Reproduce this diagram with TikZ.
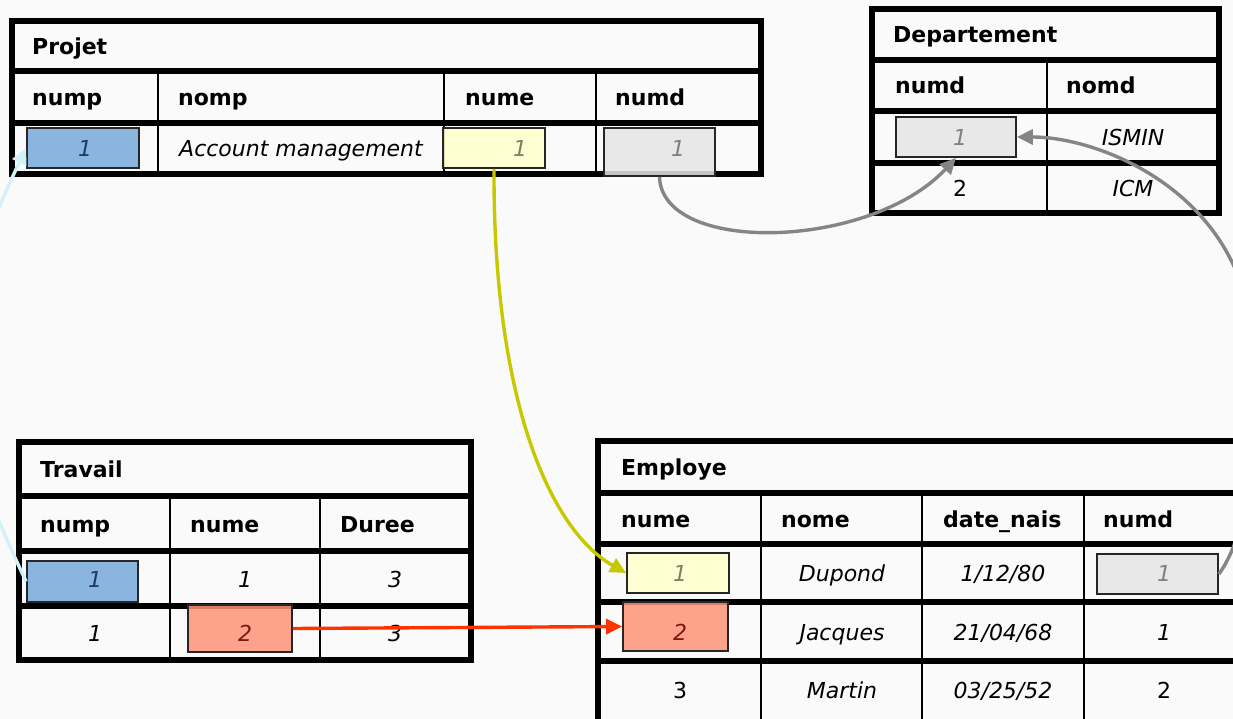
\documentclass[tikz,border=0pt]{standalone}
\usepackage{fontspec}
\setmainfont{DejaVu Sans}
\usetikzlibrary{arrows.meta}
\definecolor{bgc}{HTML}{FAFAFA}
\definecolor{blueF}{HTML}{76A9DB}
\definecolor{blueT}{HTML}{1F3A68}
\definecolor{yelF}{HTML}{FFFFCC}
\definecolor{yelT}{HTML}{7F7F60}
\definecolor{greyF}{HTML}{E6E6E6}
\definecolor{greyT}{HTML}{808080}
\definecolor{redF}{HTML}{FF9478}
\definecolor{redT}{HTML}{7F1A0A}
\definecolor{redA}{HTML}{FF3300}
\definecolor{yelA}{HTML}{C8C800}
\definecolor{greyA}{HTML}{858585}
\definecolor{cyanA}{HTML}{D2F1F8}
\newcommand\szz{\fontsize{22bp}{26bp}\selectfont}
\tikzset{
  tbl/.style={line width=5.5bp},
  colline/.style={line width=2.6bp},
  ttl/.style={font=\szz\bfseries, anchor=base west, inner sep=0pt},
  hdr/.style={font=\szz\bfseries, anchor=base west, inner sep=0pt},
  val/.style={font=\szz\itshape, anchor=base, inner sep=0pt},
  num/.style={font=\szz, anchor=base, inner sep=0pt},
  keybox/.style={draw=black!85, line width=1.8bp, inner sep=0pt, fill opacity=0.85, draw opacity=1},
  bluebox/.style={keybox, fill=blueF},
  yelbox/.style={keybox, fill=yelF},
  greybox/.style={keybox, fill=greyF},
  redbox/.style={keybox, fill=redF},
  link/.style={line width=3.4bp, -{Triangle[length=16bp,width=15bp]}},
}
\begin{document}
\begin{tikzpicture}[x=1bp,y=-1bp]
\useasboundingbox (0,0) rectangle (1233,719);
\clip (0,0) rectangle (1233,719);
\fill[bgc] (0,0) rectangle (1233,719);

% ---------- Projet ----------
\draw[tbl] (12,21) rectangle (761,174);
\draw[tbl] (12,71) -- (761,71) (12,123) -- (761,123);
\draw[colline] (158,71) -- (158,174) (444,71) -- (444,174) (596,71) -- (596,174);
\node[bluebox, minimum width=112bp, minimum height=40bp] (pB) at (83,148) {};
\node[yelbox, minimum width=102bp, minimum height=40bp] (pY) at (494,148) {};
\node[greybox, minimum width=111bp, minimum height=48bp] (pD) at (659.5,152) {};
\node[ttl] (pT) at (32,54.5) {Projet};
\node[hdr] (pH1) at (32,105.5) {nump};
\node[hdr] (pH2) at (178,105.5) {nomp};
\node[hdr] (pH3) at (465,105.5) {nume};
\node[hdr] (pH4) at (615,105.5) {numd};
\node[val, text=blueT] (pV1) at (85,157) {1};
\node[val] (pV2) at (301,157) {Account management};
\node[val, text=yelT] (pV3) at (520,157) {1};
\node[val, text=greyT] (pV4) at (678,157) {1};

% ---------- Departement ----------
\draw[tbl] (872,9) rectangle (1219,213);
\draw[tbl] (872,60) -- (1219,60) (872,111) -- (1219,111) (872,163) -- (1219,163);
\draw[colline] (1047,60) -- (1047,213);
\node[greybox, minimum width=120bp, minimum height=40bp] (dD) at (956,137) {};
\node[ttl] (dT) at (893,43) {Departement};
\node[hdr] (dH1) at (895,94) {numd};
\node[hdr] (dH2) at (1066,94) {nomd};
\node[val, text=greyT] (dV1) at (960,145.5) {1};
\node[val] (dV2) at (1133,145.5) {ISMIN};
\node[num] (dV3) at (960,196.5) {2};
\node[val] (dV4) at (1133,196.5) {ICM};

% ---------- Travail ----------
\draw[tbl] (19,442) rectangle (471,660);
\draw[tbl] (19,496) -- (471,496) (19,551) -- (471,551) (19,606) -- (471,606);
\draw[colline] (170,496) -- (170,660) (320,496) -- (320,660);
\node[bluebox, minimum width=111bp, minimum height=41bp] (tB) at (82.5,581.5) {};
\node[redbox, minimum width=104bp, minimum height=47bp] (tR) at (240,628.5) {};
\node[ttl] (tT) at (40,477.5) {Travail};
\node[hdr] (tH1) at (40,532) {nump};
\node[hdr] (tH2) at (190,532) {nume};
\node[hdr] (tH3) at (340,532) {Duree};
\node[val, text=blueT] (tV1) at (95,587) {1};
\node[val] (tV2) at (245,587) {1};
\node[val] (tV3) at (395,587) {3};
\node[val] (tV4) at (95,641.5) {1};
\node[val, text=redT] (tV5) at (245,641.5) {2};
\node[val] (tV6) at (395,641.5) {3};

% ---------- Employe ----------
\draw[tbl] (598,441) rectangle (1242,726);
\draw[tbl] (598,493) -- (1242,493) (598,544) -- (1242,544) (598,602) -- (1242,602) (598,661) -- (1242,661);
\draw[colline] (761,493) -- (761,726) (922,493) -- (922,726) (1084,493) -- (1084,726);
\node[yelbox, minimum width=102bp, minimum height=40bp] (eY) at (678,573) {};
\node[redbox, minimum width=105bp, minimum height=49bp] (eR) at (675.5,626.5) {};
\node[greybox, minimum width=121bp, minimum height=40bp] (eD) at (1157.5,574) {};
\node[ttl] (eT) at (621,475.5) {Employe};
\node[hdr] (eH1) at (621,527) {nume};
\node[hdr] (eH2) at (781,527) {nome};
\node[hdr] (eH3) at (943,527) {date\_nais};
\node[hdr] (eH4) at (1103,527) {numd};
\node[val, text=yelT] (eV11) at (680,581.5) {1};
\node[val] (eV12) at (842,581.5) {Dupond};
\node[val] (eV13) at (1003,581.5) {1/12/80};
\node[val, text=greyT] (eV14) at (1164,581.5) {1};
\node[val, text=redT] (eV21) at (680,640) {2};
\node[val] (eV22) at (842,640) {Jacques};
\node[val] (eV23) at (1003,640) {21/04/68};
\node[val] (eV24) at (1164,640) {1};
\node[num] (eV31) at (680,698) {3};
\node[val] (eV32) at (842,698) {Martin};
\node[val] (eV33) at (1003,698) {03/25/52};
\node[num] (eV34) at (1164,698) {2};

% ---------- links ----------
\coordinate (gturn) at (1250,320);
\draw[link, draw=greyA, color=greyA] (pD.south) .. controls (662,255) and (870,250) .. (dD.south);
\draw[link, draw=greyA, color=greyA] (eD.east) .. controls (1255,525) and (1262,400) .. (gturn) .. controls (1230,190) and (1100,137) .. (dD.east);
\draw[link, draw=yelA, color=yelA] (pY.south) .. controls (493,400) and (550,530) .. (eY.west);
\draw[link, draw=redA, color=redA] (tR.east) -- (eR.west);
\draw[link, draw=cyanA, color=cyanA] (tB.west) .. controls (-60,400) and (-60,330) .. (pB.west);
\end{tikzpicture}
\end{document}
